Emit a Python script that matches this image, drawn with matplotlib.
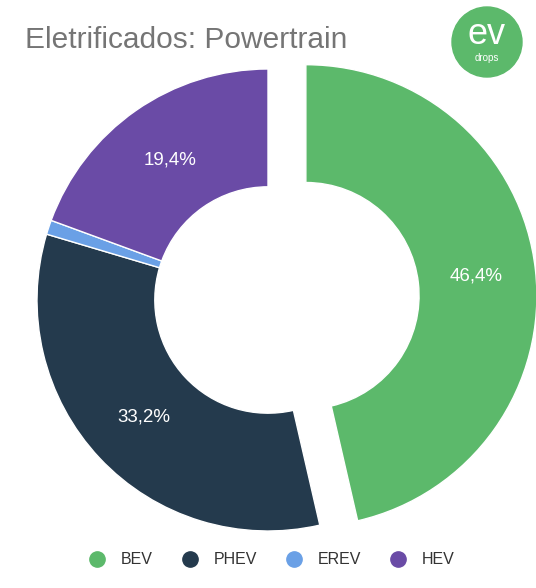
import matplotlib
matplotlib.use("Agg")
import matplotlib.pyplot as plt
from matplotlib.patches import Circle
from matplotlib.lines import Line2D
import numpy as np

plt.rcParams['font.family'] = ['Liberation Sans', 'DejaVu Sans']

labels = ["BEV", "PHEV", "EREV", "HEV"]
values = [46.4, 33.2, 1.0, 19.4]
pct_text = ["46,4%", "33,2%", "", "19,4%"]
colors = ["#5cb96b", "#243a4d", "#6aa0e6", "#6a4ba6"]

fig = plt.figure(figsize=(5.36, 5.88), dpi=100)
ax = fig.add_axes([0, 0, 1, 1])

R = 231
wedges, _ = ax.pie(values, colors=colors, startangle=90, counterclock=False,
                   radius=R, center=(268, 288), explode=[0.165 * R, 0, 0, 0],
                   wedgeprops=dict(width=R * 0.51, edgecolor="white", linewidth=1),
                   frame=True)
ax.set_xlim(0, 536); ax.set_ylim(0, 588); ax.set_aspect("equal"); ax.axis("off")

start = 90
for v, t, i in zip(values, pct_text, range(4)):
    mid = np.deg2rad(start - v * 3.6 / 2)
    start -= v * 3.6
    if not t:
        continue
    d = 0.74 * R + (0.165 * R if i == 0 else 0)
    ax.text(268 + d * np.cos(mid), 288 + d * np.sin(mid), t, color="white",
            fontsize=13.5, ha="center", va="center")

fig.text(25 / 536, 1 - 40 / 588, "Eletrificados: Powertrain", fontsize=21.5,
         color="#757575", va="center", ha="left")

# logo
ax.add_patch(Circle((487, 588 - 42), 35, color="#5cb96b"))
ax.text(487, 588 - 35, "ev", color="white", fontsize=26, ha="center", va="center")
ax.text(487, 588 - 58, "drops", color="white", fontsize=7, ha="center", va="center")

handles = [Line2D([], [], marker="o", ls="", color=c, markersize=11) for c in colors]
fig.legend(handles, labels, loc="center", bbox_to_anchor=(0.5, 1 - 560 / 588),
           ncol=4, frameon=False, fontsize=11.5, handletextpad=0.5, columnspacing=1.3,
           labelcolor="#333333")

fig.savefig("out.png", dpi=100, facecolor="white")
